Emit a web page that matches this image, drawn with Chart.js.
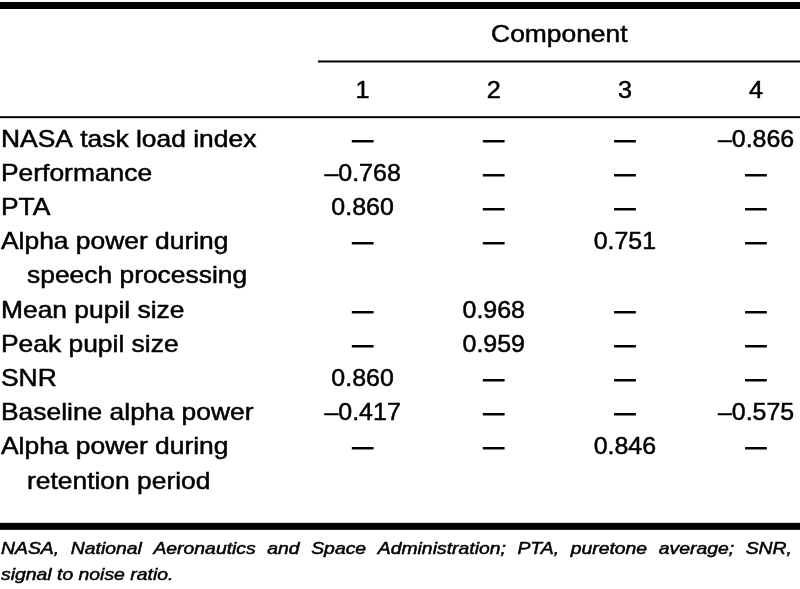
<!DOCTYPE html>
<html>
<head>
<meta charset="utf-8">
<script src="https://cdn.jsdelivr.net/npm/chart.js@4.4.0/dist/chart.umd.min.js"></script>
<style>
  html, body { margin: 0; padding: 0; background: #fff; }
  canvas { display: block; }
</style>
</head>
<body>
<canvas id="table" width="800" height="589"></canvas>
<script>
// table contents
const rowLabels = [
    ['NASA task load index'],
    ['Performance'],
    ['PTA'],
    ['Alpha power during', 'speech processing'],
    ['Mean pupil size'],
    ['Peak pupil size'],
    ['SNR'],
    ['Baseline alpha power'],
    ['Alpha power during', 'retention period']
];
const components = ['1', '2', '3', '4'];
const comp1 = [null, -0.768, 0.860, null, null, null, 0.860, -0.417, null];
const comp2 = [null, null, null, null, 0.968, 0.959, null, null, null];
const comp3 = [null, null, null, 0.751, null, null, null, null, 0.846];
const comp4 = [-0.866, null, null, null, null, null, null, -0.575, null];
const headerTitle = 'Component';
const footnote = [
    'NASA, National Aeronautics and Space Administration; PTA, puretone average; SNR,',
    'signal to noise ratio.'
];

const series = [comp1, comp2, comp3, comp4];

// each row starts on a text-line slot; wrapped labels take two slots
let slots = [];
let s = 0;
rowLabels.forEach(l => { slots.push(s); s += l.length; });
const nSlots = s;

const FONT = '"Liberation Sans", Arial, Helvetica, sans-serif';

function fmt(v) {
    if (v === null) return '\u2014';
    return (v < 0 ? '\u2013' : '') + Math.abs(v).toFixed(3);
}

function drawText(ctx, text, x, y, align, sx) {
    ctx.save();
    ctx.translate(x, y);
    ctx.scale(sx, 1);
    ctx.textAlign = align;
    ctx.fillText(text, 0, 0);
    ctx.strokeText(text, 0, 0);
    ctx.restore();
}

const tablePlugin = {
    id: 'tablePlugin',
    afterDraw(chart) {
        const ctx = chart.ctx;
        const xs = chart.scales.x, ys = chart.scales.y;
        const W = chart.width;
        ctx.save();
        ctx.fillStyle = '#000';
        ctx.strokeStyle = '#000';
        ctx.lineWidth = 0.5;
        ctx.textBaseline = 'middle';

        // rules
        ctx.fillRect(0, 2, W, 7);
        ctx.fillRect(xs.left, ys.getPixelForValue(-2.3) - 1, W - xs.left, 2);
        ctx.fillRect(0, ys.getPixelForValue(-0.67) - 1, W, 2);
        ctx.fillRect(0, ys.getPixelForValue(nSlots + 0.3) - 3.5, W, 7);

        // header
        ctx.font = '24px ' + FONT;
        drawText(ctx, headerTitle, (xs.getPixelForValue(2) + xs.getPixelForValue(3)) / 2,
            ys.getPixelForValue(-3.05), 'center', 1.1);
        components.forEach((c, i) => {
            drawText(ctx, c, xs.getPixelForValue(i + 1), ys.getPixelForValue(-1.42), 'center', 1.05);
        });

        // row labels
        rowLabels.forEach((lines, i) => {
            lines.forEach((t, j) => {
                drawText(ctx, t, j ? 27 : 1, ys.getPixelForValue(slots[i] + j), 'left', 1.1);
            });
        });

        // cells from the dataset points
        chart.data.datasets.forEach((ds, di) => {
            const meta = chart.getDatasetMeta(di);
            meta.data.forEach((pt, i) => {
                const v = series[di][i];
                if (v === null) {
                    ctx.lineWidth = 1;
                    drawText(ctx, fmt(v), pt.x, pt.y, 'center', 0.87);
                    ctx.lineWidth = 0.5;
                } else {
                    drawText(ctx, fmt(v), pt.x, pt.y, 'center', 1.04);
                }
            });
        });

        // footnote, first line justified
        const fsx = 1.14;
        ctx.font = 'italic 17px ' + FONT;
        ctx.textBaseline = 'alphabetic';
        const words = footnote[0].split(' ');
        const wsum = words.reduce((a, w) => a + ctx.measureText(w).width * fsx, 0);
        const gap = (792 - 1 - wsum) / (words.length - 1);
        let x = 1;
        words.forEach(w => {
            drawText(ctx, w, x, 554, 'left', fsx);
            x += ctx.measureText(w).width * fsx + gap;
        });
        drawText(ctx, footnote[1], 1, 580, 'left', fsx);
        ctx.restore();
    }
};

new Chart(document.getElementById('table'), {
    type: 'scatter',
    data: {
        datasets: series.map((vals, c) => ({
            label: components[c],
            data: vals.map((v, i) => ({ x: c + 1, y: slots[i] })),
            pointRadius: 0,
            pointHoverRadius: 0
        }))
    },
    options: {
        responsive: false,
        animation: false,
        events: [],
        layout: { padding: { left: 318, right: 0, top: 123, bottom: 90 } },
        plugins: { legend: { display: false }, tooltip: { enabled: false } },
        scales: {
            x: { type: 'linear', min: 0.66, max: 4.335, display: false },
            y: { type: 'linear', min: -0.5, max: nSlots - 0.5, reverse: true, display: false }
        }
    },
    plugins: [tablePlugin]
});
</script>
</body>
</html>
